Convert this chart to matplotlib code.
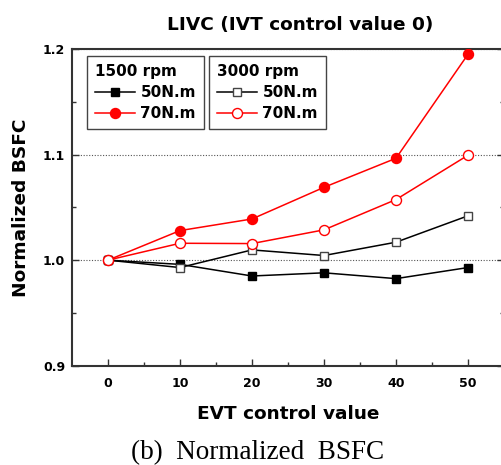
import matplotlib
matplotlib.use("Agg")
import matplotlib.pyplot as plt
from matplotlib.lines import Line2D

evt = [0, 10, 20, 30, 40, 50]
r1500_50 = [1.000, 0.996, 0.985, 0.988, 0.9825, 0.993]
r1500_70 = [1.000, 1.028, 1.039, 1.069, 1.0965, 1.195]
r3000_50 = [1.000, 0.993, 1.0097, 1.0044, 1.017, 1.042]
r3000_70 = [1.000, 1.016, 1.0157, 1.0287, 1.0574, 1.0994]

xticks = [0, 10, 20, 30, 40, 50]
yticks = [0.9, 1.0, 1.1, 1.2]

plt.rcParams['font.family'] = ['DejaVu Sans']
fig = plt.figure(figsize=(5.02, 4.65), dpi=100)
ax = fig.add_axes([0.1434, 0.2135, 0.8606, 0.6811])

lw = 1.1
ax.plot(evt, r1500_50, color='black', lw=lw, marker='s', ms=5.5, mfc='black', mec='black', zorder=3)
ax.plot(evt, r1500_70, color='red', lw=lw, marker='o', ms=7.2, mfc='red', mec='red', zorder=3)
ax.plot(evt, r3000_50, color='black', lw=lw, marker='s', ms=6, mfc='white', mec='#444444', mew=1.0, zorder=4)
ax.plot(evt, r3000_70, color='red', lw=lw, marker='o', ms=7.2, mfc='white', mec='red', mew=1.0, zorder=4)

ax.set_xlim(-5, 55)
ax.set_ylim(0.9, 1.2)
ax.set_xticks(xticks)
ax.set_xticks([5, 15, 25, 35, 45, 55], minor=True)
ax.set_yticks(yticks)
ax.set_yticks([0.95, 1.05, 1.15], minor=True)
ax.set_xticklabels([str(v) for v in xticks], fontweight='bold', fontsize=9)
ax.set_yticklabels([f"{v:.1f}" for v in yticks], fontweight='bold', fontsize=9)
ax.tick_params(which='both', direction='in', color='#333333', width=1.0,
               top=False, right=True, pad=8)
ax.tick_params(which='major', length=5)
ax.tick_params(which='minor', length=3)
ax.tick_params(axis='y', pad=5)
for s in ax.spines.values():
    s.set_color('#333333')
    s.set_linewidth(1.5)
ax.grid(axis='y', which='major', linestyle=(0, (1, 1.5)), color='#555555', lw=0.8)

ax.set_title('LIVC (IVT control value 0)', fontweight='bold', fontsize=13.3, pad=14, x=0.528)
ax.set_xlabel('EVT control value', fontweight='bold', fontsize=13.3, labelpad=11)
ax.set_ylabel('Normalized BSFC', fontweight='bold', fontsize=13.3, labelpad=9)

h1 = [Line2D([], [], color='black', lw=lw, marker='s', ms=5.5, mfc='black', mec='black'),
      Line2D([], [], color='red', lw=lw, marker='o', ms=7.2, mfc='red', mec='red')]
h2 = [Line2D([], [], color='black', lw=lw, marker='s', ms=6, mfc='white', mec='#444444'),
      Line2D([], [], color='red', lw=lw, marker='o', ms=7.2, mfc='white', mec='red')]
labels = ['50N.m', '70N.m']
leg_kw = dict(fancybox=False, edgecolor='#444444', framealpha=1, handlelength=2.6,
              handletextpad=0.35, borderpad=0.55, labelspacing=0.38, borderaxespad=0,
              prop={'weight': 'bold', 'size': 11},
              title_fontproperties={'weight': 'bold', 'size': 11}, alignment='left')
leg1 = ax.legend(h1, labels, title='1500 rpm', loc='upper left',
                 bbox_to_anchor=(0.0347, 0.978), **leg_kw)
leg1.get_frame().set_linewidth(1.0)
ax.add_artist(leg1)
leg2 = ax.legend(h2, labels, title='3000 rpm', loc='upper left',
                 bbox_to_anchor=(0.317, 0.978), **leg_kw)
leg2.get_frame().set_linewidth(1.0)

fig.text(0.513, 1 - 459 / 465, '(b)  Normalized  BSFC', family='Liberation Serif',
         fontsize=19.5, ha='center', va='baseline')

fig.savefig('out.png', dpi=100)
